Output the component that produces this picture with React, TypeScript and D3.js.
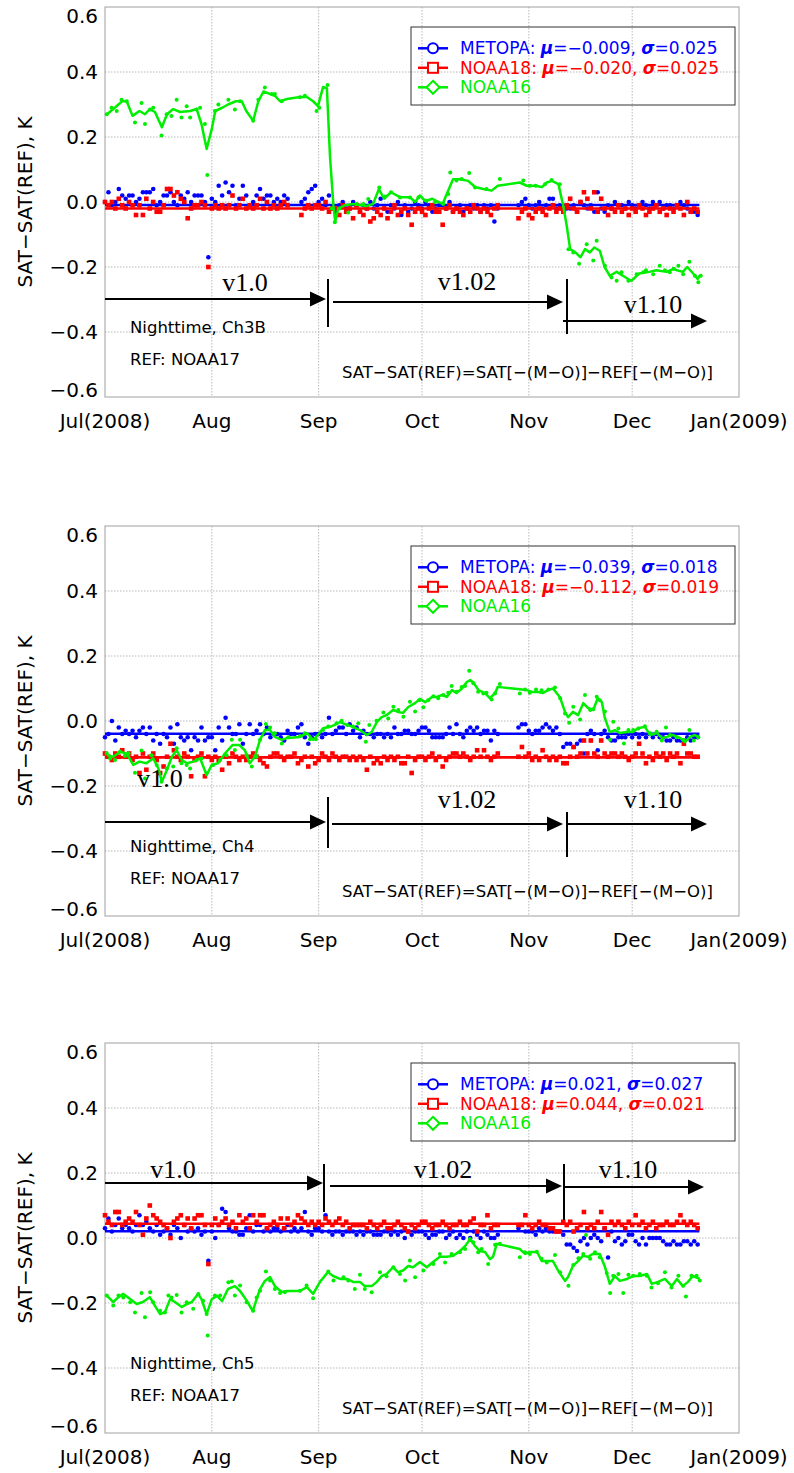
import React from "react";
import * as d3 from "d3";

// ---------------- data ----------------
const START = Date.UTC(2008, 6, 1);
const END = Date.UTC(2009, 0, 1);
const DAY_MS = 86400000;
const MONTH_LABELS = ["Jul(2008)", "Aug", "Sep", "Oct", "Nov", "Dec", "Jan(2009)"];
const Y_TICKS = [-0.6, -0.4, -0.2, 0, 0.2, 0.4, 0.6];
const CHANNELS = ["Ch3B", "Ch4", "Ch5"];
const REF_SAT = "NOAA17";
const SERIES_NAMES = ["METOPA", "NOAA18", "NOAA16"];
const METOPA_MEAN = [-0.009, -0.039, 0.021];
const METOPA_SIGMA = [0.025, 0.018, 0.027];
const NOAA18_MEAN = [-0.02, -0.112, 0.044];
const NOAA18_SIGMA = [0.025, 0.019, 0.021];
const VERSION_LABELS = ["v1.0", "v1.02", "v1.10"];
const MEAN_LINE_END_DAY = 172.5;

type V = number | null;
type Pt = [number, number];

// daily values, day 0 = 1 Jul 2008
const CH3B_METOPA: V[] = [
  0.00, 0.03, -0.01, 0.00, 0.04, 0.02, 0.01, 0.02, 0.02, 0.00,
  0.01, 0.03, 0.03, 0.03, 0.04, -0.01, 0.00, 0.02, 0.02, 0.03,
  0.00, -0.01, 0.02, 0.01, 0.03, 0.00, 0.02, 0.02, 0.02, 0.00,
  -0.17, 0.01, 0.00, 0.05, 0.02, 0.06, 0.03, 0.05, -0.01, 0.01,
  0.05, 0.02, -0.01, 0.00, 0.02, 0.04, 0.01, 0.02, 0.02, 0.00,
  0.01, 0.00, 0.02, 0.01, null, null, null, 0.00, 0.01, 0.03,
  0.04, 0.05, 0.00, 0.01, -0.01, 0.02, -0.02, -0.03, -0.01, 0.00,
  -0.02, -0.02, 0.00, -0.01, -0.03, -0.01, -0.02, 0.00, -0.02, -0.01,
  0.01, -0.02, -0.03, -0.01, -0.02, 0.00, -0.04, -0.01, -0.03, -0.02,
  0.00, -0.01, -0.02, 0.00, -0.01, -0.03, -0.02, -0.01, -0.01, -0.02,
  0.00, -0.03, -0.02, -0.01, -0.03, -0.02, -0.01, -0.02, -0.01, -0.03,
  -0.01, -0.02, -0.01, -0.06, -0.02, null, null, null, null, null,
  -0.01, 0.00, 0.01, -0.01, -0.02, -0.01, 0.00, -0.02, -0.01, 0.01,
  0.01, -0.02, -0.01, -0.03, -0.02, -0.02, -0.01, -0.03, 0.00, -0.01,
  -0.02, -0.01, -0.03, 0.03, -0.02, -0.03, -0.01, -0.02, 0.00, -0.01,
  -0.01, -0.02, 0.00, -0.01, -0.02, -0.01, 0.00, -0.01, -0.02, 0.00,
  -0.01, 0.00, -0.02, -0.01, -0.01, -0.02, -0.01, 0.00, -0.01, -0.02,
  -0.03, -0.03, -0.04,
];
const CH3B_NOAA18: V[] = [
  0.00, -0.01, 0.00, -0.02, 0.01, -0.01, -0.02, 0.00, -0.01, -0.04,
  -0.01, -0.04, 0.01, -0.02, 0.00, -0.03, -0.03, -0.01, 0.04, 0.04,
  0.02, 0.03, 0.01, 0.00, -0.05, -0.02, -0.01, -0.01, 0.00, -0.01,
  -0.20, -0.02, -0.01, -0.02, -0.01, -0.02, -0.01, 0.02, -0.02, -0.01,
  0.01, -0.02, -0.01, -0.02, -0.01, 0.01, -0.02, 0.00, -0.02, -0.01,
  -0.02, -0.01, 0.00, -0.01, null, null, null, -0.04, -0.02, -0.01,
  -0.02, -0.01, -0.01, -0.02, 0.00, -0.03, -0.02, -0.02, -0.04, -0.01,
  -0.03, -0.02, -0.05, -0.01, -0.03, -0.04, -0.02, -0.06, -0.05, -0.03,
  -0.04, -0.02, -0.05, -0.03, -0.01, -0.04, -0.03, -0.02, -0.04, -0.07,
  -0.03, -0.02, -0.03, -0.04, -0.02, -0.01, -0.03, -0.03, -0.07, -0.02,
  -0.01, -0.03, -0.02, -0.03, -0.04, -0.02, -0.03, -0.01, -0.02, -0.03,
  -0.02, -0.03, -0.04, -0.02, -0.01, null, null, null, null, null,
  -0.05, -0.03, -0.02, -0.04, -0.05, -0.03, -0.02, -0.03, -0.04, -0.02,
  -0.01, -0.03, -0.02, -0.03, -0.01, 0.01, -0.02, -0.03, 0.00, 0.03,
  0.01, -0.02, 0.03, -0.03, 0.01, -0.02, -0.04, -0.02, -0.03, -0.01,
  -0.03, -0.02, -0.04, -0.02, -0.03, -0.01, -0.02, -0.04, -0.03, -0.02,
  -0.01, -0.03, -0.02, -0.04, -0.02, -0.03, -0.01, -0.02, -0.04, 0.00,
  -0.03, -0.02, -0.03,
];
const CH3B_NOAA16_LINE: Pt[] = [
  [0.6, 0.27], [2.4, 0.286], [5, 0.31], [6.3, 0.31], [8, 0.265], [10, 0.28], [11.6, 0.27], [13, 0.286],
  [14.5, 0.277], [16.5, 0.23], [18, 0.27], [19.8, 0.286], [21.8, 0.277], [24.7, 0.28], [26.6, 0.286],
  [28, 0.24], [29.5, 0.163], [31, 0.225], [32, 0.28], [34, 0.29], [35.7, 0.3], [38, 0.31], [39.7, 0.31],
  [41, 0.28], [43, 0.25], [44.5, 0.31], [46, 0.34], [48, 0.332], [49.4, 0.326], [50.8, 0.31], [52.8, 0.317],
  [56.6, 0.323], [58.6, 0.323], [60.4, 0.31], [61.8, 0.295], [63.3, 0.354], [64.4, 0.35], [65.3, 0.14],
  [66.3, -0.012], [66.8, -0.06], [67.7, -0.02], [69.6, -0.01], [72, -0.006], [76, -0.012], [77.8, -0.006],
  [79.5, 0.04], [81, 0.01], [83, 0.03], [85.6, 0.015], [88.5, 0.015], [90, 0.0], [91.4, 0.02], [93, 0.003],
  [95, 0.01], [96.3, 0.003], [98, -0.006], [99, 0.02], [101, 0.07], [103, 0.07], [105.4, 0.065],
  [107.4, 0.046], [109.8, 0.04], [112.2, 0.035], [114, 0.05], [120.4, 0.06], [122.4, 0.05], [124.8, 0.05],
  [126.8, 0.046], [128.2, 0.06], [129.7, 0.065], [131.6, 0.055], [133, -0.012], [134, -0.073], [135, -0.145],
  [136.5, -0.155], [138, -0.17], [139.3, -0.145], [140.7, -0.155], [142, -0.14], [143.6, -0.15], [145, -0.2],
  [146.5, -0.227], [148.5, -0.215], [150.3, -0.227], [152.8, -0.243], [155, -0.22], [158, -0.215], [160, -0.21],
  [163, -0.215], [165, -0.206], [166, -0.21], [167.7, -0.215], [169, -0.2], [170.7, -0.22], [172, -0.237],
  [172.6, -0.227],
];
const CH3B_NOAA16_DOTS: Pt[] = [
  [0.5, 0.27], [1.9, 0.29], [3.4, 0.28], [4.8, 0.315], [6.3, 0.31], [8.7, 0.245], [10.6, 0.305], [11.6, 0.24],
  [13.1, 0.285], [14, 0.29], [16.4, 0.205], [17.9, 0.27], [19.3, 0.265], [20.8, 0.315], [22.2, 0.26],
  [23.7, 0.295], [24.7, 0.26], [26.6, 0.285], [27.6, 0.29], [29, 0.24], [29.7, 0.083], [31.9, 0.28],
  [32.9, 0.3], [35.8, 0.315], [37.7, 0.285], [39.2, 0.31], [43, 0.25], [44.5, 0.315], [46.4, 0.352],
  [48.4, 0.332], [49.3, 0.332], [51.3, 0.31], [56.6, 0.322], [58, 0.327], [61.4, 0.28], [62.2, 0.29],
  [64.6, 0.36], [65.8, -0.02], [66.7, -0.062], [68, -0.02], [70.6, -0.032], [73, -0.006], [75, -0.006],
  [76.4, 0.009], [79.6, 0.045], [81.3, 0.017], [83, 0.03], [85.6, 0.014], [88.5, 0.014], [91, 0.015],
  [93.3, 0.004], [95.8, 0.0], [98.2, -0.006], [99.6, 0.025], [100.2, 0.091], [102, 0.066], [103.5, 0.071],
  [105.7, 0.089], [107.4, 0.045], [110.7, 0.04], [114.6, 0.071], [121.4, 0.066], [123.3, 0.05], [125, 0.05],
  [127.7, 0.055], [129.6, 0.068], [132, 0.055], [134.5, -0.145], [135.9, -0.155], [137.6, -0.19],
  [139.8, -0.13], [141.7, -0.18], [142.7, -0.119], [145.1, -0.196], [147, -0.232], [148.5, -0.242],
  [149.9, -0.216], [151.9, -0.242], [154.3, -0.222], [156.2, -0.216], [157, -0.21], [159.1, -0.222],
  [161, -0.196], [162.5, -0.21], [163.9, -0.216], [165, -0.205], [166.4, -0.196], [167.8, -0.222],
  [169.6, -0.184], [171.2, -0.227], [172.2, -0.247], [172.9, -0.227],
];

const CH4_METOPA: V[] = [
  -0.05, -0.04, 0.00, -0.06, -0.02, -0.04, -0.03, -0.04, -0.03, -0.05,
  -0.03, -0.02, -0.04, -0.02, -0.06, -0.04, -0.07, -0.04, -0.05, -0.02,
  -0.07, -0.01, -0.05, -0.06, -0.05, -0.09, -0.05, -0.06, -0.02, -0.06,
  -0.05, -0.05, -0.09, -0.02, -0.06, 0.01, -0.02, -0.04, -0.04, -0.01,
  -0.07, -0.04, -0.01, -0.04, -0.03, -0.01, -0.04, -0.02, -0.05, -0.04,
  -0.04, -0.05, -0.06, -0.03, -0.04, -0.04, -0.02, -0.01, -0.05, -0.07,
  -0.05, -0.04, -0.04, -0.05, -0.04, 0.01, -0.04, -0.03, -0.02, -0.02,
  -0.04, -0.01, -0.03, -0.02, -0.05, -0.03, -0.04, -0.04, -0.05, -0.04,
  -0.04, -0.05, -0.04, -0.05, -0.02, -0.04, -0.04, -0.03, -0.03, -0.04,
  -0.04, -0.03, -0.02, -0.02, -0.03, -0.05, -0.05, -0.05, -0.05, -0.04,
  -0.02, -0.04, -0.01, -0.04, -0.05, -0.03, -0.02, -0.03, -0.02, -0.04,
  -0.03, -0.03, -0.06, -0.03, -0.04, null, null, null, null, null,
  -0.02, -0.01, -0.01, -0.03, -0.04, -0.03, -0.03, -0.02, -0.01, -0.02,
  -0.03, -0.02, -0.04, -0.08, -0.07, -0.07, -0.08, -0.07, -0.06, -0.10,
  -0.04, -0.03, -0.04, -0.09, -0.04, -0.03, -0.05, -0.06, -0.06, -0.05,
  -0.05, -0.05, -0.04, -0.05, -0.04, -0.05, -0.04, -0.05, -0.04, -0.05,
  -0.04, -0.05, -0.05, -0.06, -0.06, -0.05, -0.06, -0.06, -0.06, -0.05,
  -0.06, -0.05, -0.05,
];
const CH4_NOAA18: V[] = [
  -0.10, -0.11, -0.12, -0.10, -0.11, -0.09, -0.11, -0.10, -0.12, -0.11,
  -0.16, -0.10, -0.15, -0.11, -0.10, -0.12, -0.16, -0.14, -0.11, -0.07,
  -0.09, -0.11, -0.12, -0.10, -0.11, -0.17, -0.12, -0.11, -0.10, -0.17,
  -0.11, -0.12, -0.11, -0.12, -0.15, -0.11, -0.13, -0.10, -0.11, -0.12,
  -0.11, -0.12, -0.11, -0.10, -0.11, -0.12, -0.13, -0.14, -0.11, -0.10,
  -0.10, -0.11, -0.12, -0.11, -0.11, -0.10, -0.13, -0.12, -0.11, -0.14,
  -0.11, -0.13, -0.12, -0.10, -0.11, -0.12, -0.10, -0.11, -0.12, -0.11,
  -0.11, -0.12, -0.11, -0.12, -0.11, -0.12, -0.15, -0.11, -0.13, -0.12,
  -0.13, -0.11, -0.12, -0.11, -0.12, -0.11, -0.13, -0.13, -0.11, -0.16,
  -0.12, -0.11, -0.11, -0.12, -0.11, -0.10, -0.12, -0.11, -0.14, -0.12,
  -0.11, -0.10, -0.10, -0.11, -0.10, -0.11, -0.12, -0.11, -0.09, -0.11,
  -0.09, -0.11, -0.12, -0.11, -0.10, null, null, null, null, null,
  -0.11, -0.08, -0.11, -0.10, -0.12, -0.11, -0.12, -0.09, -0.11, -0.12,
  -0.11, -0.12, -0.11, -0.13, -0.13, -0.11, -0.08, -0.11, -0.10, -0.06,
  -0.10, -0.06, -0.10, -0.11, -0.06, -0.10, -0.11, -0.10, -0.10, -0.11,
  -0.10, -0.11, -0.12, -0.11, -0.10, -0.07, -0.10, -0.13, -0.11, -0.12,
  -0.10, -0.11, -0.10, -0.12, -0.10, -0.11, -0.10, -0.13, -0.07, -0.10,
  -0.10, -0.11, -0.11,
];
const CH4_NOAA16_LINE: Pt[] = [
  [0.6, -0.105], [2.4, -0.11], [4.4, -0.095], [6.3, -0.1], [8.2, -0.135], [10, -0.125], [12, -0.13],
  [14, -0.115], [15.5, -0.146], [16.5, -0.187], [18, -0.15], [19.4, -0.11], [20.8, -0.09], [22.3, -0.12],
  [23.8, -0.13], [25.6, -0.125], [27.6, -0.115], [29.5, -0.166], [31, -0.135], [32.8, -0.13], [34.8, -0.1],
  [37, -0.074], [39, -0.074], [40.6, -0.09], [42, -0.13], [43.5, -0.11], [45, -0.058], [46.4, -0.028],
  [47.9, -0.028], [49.3, -0.049], [51.3, -0.058], [53, -0.052], [56.6, -0.049], [58.6, -0.037], [60.4, -0.058],
  [61.8, -0.043], [63.3, -0.022], [65.3, -0.018], [66.7, -0.012], [68.2, -0.003], [70.2, -0.012], [72, -0.018],
  [74, -0.028], [76, -0.043], [77.4, -0.034], [78.9, -0.003], [80.3, 0.012], [81.7, 0.018], [83.6, 0.034],
  [85, 0.028], [86.5, 0.025], [88, 0.043], [90, 0.055], [91.4, 0.068], [92.9, 0.058], [94.9, 0.074],
  [96.3, 0.074], [97.8, 0.08], [99.2, 0.074], [100.7, 0.095], [102, 0.086], [103.6, 0.1], [105, 0.12],
  [106, 0.126], [107, 0.117], [108.4, 0.095], [110.3, 0.086], [111.7, 0.07], [113.2, 0.086], [114, 0.105],
  [120.4, 0.098], [122.4, 0.095], [124.2, 0.089], [125.7, 0.089], [127, 0.086], [128.6, 0.095], [130, 0.1],
  [132, 0.074], [133.5, 0.028], [134.4, 0.012], [135.8, 0.028], [137.3, 0.018], [138.8, 0.055], [140.2, 0.04],
  [141.7, 0.034], [143, 0.07], [144.2, 0.058], [145, 0.012], [146.5, -0.034], [148, -0.028], [149.4, -0.037],
  [151.5, -0.034], [153.2, -0.034], [154.7, -0.022], [156.7, -0.018], [158.2, -0.043], [160.2, -0.037],
  [161.6, -0.052], [163, -0.049], [164.8, -0.043], [166.9, -0.052], [168.3, -0.065], [169.8, -0.049],
  [171.2, -0.043], [172.6, -0.052],
];
const CH4_NOAA16_DOTS: Pt[] = [
  [0.5, -0.099], [1.5, -0.115], [2.9, -0.12], [4.4, -0.094], [5.8, -0.108], [6.8, -0.099], [8.7, -0.159],
  [10.6, -0.091], [11.6, -0.177], [13.5, -0.105], [15, -0.135], [16.4, -0.187], [17.9, -0.146], [19.8, -0.14],
  [20.8, -0.084], [22.2, -0.13], [23.7, -0.135], [24.7, -0.146], [26.6, -0.12], [28, -0.115], [29.5, -0.161],
  [31.4, -0.135], [33.4, -0.12], [35.3, -0.105], [36.8, -0.058], [37.7, -0.089], [39.2, -0.058], [41.1, -0.105],
  [42.6, -0.14], [44, -0.11], [45, -0.058], [46.7, -0.009], [47.9, -0.02], [49.3, -0.038], [51.3, -0.069],
  [53.2, -0.05], [56.6, -0.046], [58, -0.038], [59.5, -0.056], [61.2, -0.056], [63.3, -0.028], [64.8, -0.017],
  [67.2, -0.007], [68.7, 0.001], [70.3, -0.012], [72, -0.017], [73.5, -0.007], [75.7, -0.064], [76.7, -0.012],
  [78.8, 0.001], [80.8, 0.026], [82.2, 0.008], [83.7, 0.044], [85.1, 0.034], [86.6, 0.013], [88.5, 0.059],
  [90, 0.029], [91.2, 0.064], [92.4, 0.042], [93.8, 0.064], [95.3, 0.076], [96.7, 0.07], [98.2, 0.08],
  [99.6, 0.087], [100.6, 0.108], [102, 0.09], [103.5, 0.105], [104.5, 0.108], [105.7, 0.155], [106.9, 0.116],
  [108.3, 0.09], [109.8, 0.085], [110.7, 0.087], [112.2, 0.066], [113.2, 0.085], [114.6, 0.114], [120.4, 0.085],
  [121.9, 0.097], [123.3, 0.087], [125.1, 0.097], [126.7, 0.095], [128.7, 0.097], [130.6, 0.103], [132.1, 0.07],
  [133.5, 0.023], [134.7, -0.005], [135.9, 0.044], [137.9, 0.005], [139.3, 0.08], [140.8, 0.034], [141.7, 0.036],
  [142.7, 0.075], [143.6, 0.064], [145.1, 0.029], [146.6, -0.058], [147.5, -0.002], [149, -0.023],
  [150.6, -0.069], [151.9, -0.028], [153.3, -0.028], [154.8, -0.023], [156.7, -0.016], [158.2, -0.038],
  [160.1, -0.033], [161.6, -0.06], [162.8, -0.02], [164, -0.043], [165.9, -0.05], [167.8, -0.058],
  [169.6, -0.028], [170.9, -0.06], [172.2, -0.05],
];

const CH5_METOPA: V[] = [
  0.03, 0.06, 0.02, 0.04, 0.06, 0.03, 0.04, 0.03, 0.02, 0.04,
  0.07, 0.04, 0.05, 0.03, 0.02, 0.04, 0.01, 0.02, 0.03, 0.01,
  0.04, 0.03, 0.00, 0.04, 0.02, 0.03, 0.02, 0.03, 0.01, 0.02,
  -0.07, 0.02, 0.00, 0.04, 0.09, 0.08, 0.03, 0.02, 0.02, 0.01,
  0.01, 0.03, 0.07, 0.02, 0.04, 0.04, 0.02, 0.03, 0.02, 0.03,
  0.03, 0.02, 0.03, 0.04, 0.02, 0.03, 0.02, 0.03, 0.08, 0.02,
  0.01, 0.03, 0.03, 0.02, 0.07, 0.02, 0.01, 0.02, 0.02, 0.01,
  0.02, 0.02, 0.02, 0.01, 0.02, 0.01, 0.02, 0.02, 0.01, 0.01,
  0.01, 0.02, 0.02, 0.01, 0.02, 0.01, 0.02, 0.00, 0.02, 0.01,
  0.02, 0.02, 0.02, 0.01, 0.00, 0.01, 0.01, 0.02, 0.02, 0.00,
  0.01, 0.02, 0.00, 0.01, 0.00, 0.02, 0.00, 0.02, 0.01, 0.00,
  0.02, 0.01, 0.00, 0.00, 0.01, null, null, null, null, null,
  0.03, 0.04, 0.02, 0.02, 0.02, 0.01, 0.03, 0.02, 0.03, 0.02,
  0.02, 0.02, 0.02, 0.01, -0.02, -0.02, -0.03, -0.04, -0.01, 0.00,
  -0.02, 0.00, 0.01, 0.00, -0.01, 0.03, -0.06, 0.02, -0.01, 0.00,
  -0.02, -0.01, 0.01, 0.01, -0.01, -0.02, 0.00, -0.02, 0.00, 0.00,
  0.00, 0.00, -0.01, -0.02, -0.02, -0.01, -0.02, -0.02, -0.01, -0.01,
  -0.02, -0.01, -0.02,
];
const CH5_NOAA18: V[] = [
  0.07, 0.05, 0.04, 0.08, 0.08, 0.04, 0.05, 0.06, 0.05, 0.08,
  0.04, 0.01, 0.06, 0.10, 0.07, 0.06, 0.05, 0.04, 0.03, 0.00,
  0.05, 0.06, 0.07, 0.04, 0.06, 0.03, 0.06, 0.07, 0.07, 0.04,
  -0.08, 0.04, 0.06, 0.04, 0.05, 0.06, 0.04, 0.05, 0.03, 0.07,
  0.05, 0.06, 0.03, 0.07, 0.05, 0.07, 0.07, 0.03, 0.04, 0.05,
  0.04, 0.06, 0.03, 0.06, 0.04, 0.05, 0.07, 0.06, 0.05, 0.04,
  0.05, 0.04, 0.05, 0.04, 0.06, 0.05, 0.04, 0.05, 0.06, 0.04,
  0.05, 0.03, 0.04, 0.04, 0.04, 0.04, 0.03, 0.05, 0.04, 0.03,
  0.04, 0.05, 0.03, 0.03, 0.04, 0.05, 0.04, 0.03, 0.02, 0.04,
  0.03, 0.04, 0.05, 0.05, 0.04, 0.03, 0.04, 0.04, 0.05, 0.04,
  0.03, 0.04, 0.04, 0.05, 0.04, 0.04, 0.05, 0.06, 0.02, 0.04,
  0.04, 0.07, 0.03, 0.04, 0.04, null, null, null, null, null,
  0.04, 0.04, 0.07, 0.04, 0.03, 0.04, 0.05, 0.04, 0.04, 0.03,
  0.03, 0.02, 0.02, 0.05, 0.04, 0.05, 0.02, 0.03, 0.04, 0.08,
  0.03, 0.04, 0.03, 0.05, 0.08, 0.03, 0.01, 0.05, 0.04, 0.05,
  0.04, 0.03, 0.05, 0.04, 0.07, 0.04, 0.05, 0.03, 0.04, 0.05,
  0.03, 0.04, 0.04, 0.05, 0.04, 0.04, 0.05, 0.07, 0.05, 0.04,
  0.05, 0.04, 0.03,
];
const CH5_NOAA16_LINE: Pt[] = [
  [0.6, -0.178], [2.4, -0.197], [3.9, -0.182], [5.3, -0.172], [7.3, -0.188], [9.2, -0.203], [11, -0.197],
  [13, -0.182], [14.5, -0.209], [16, -0.234], [17.4, -0.228], [18.9, -0.188], [20.3, -0.197], [22.3, -0.212],
  [23.8, -0.203], [25.2, -0.197], [27, -0.172], [28, -0.188], [29.5, -0.234], [31, -0.188], [32.5, -0.178],
  [34, -0.194], [35.7, -0.157], [37.7, -0.148], [39.2, -0.163], [41.2, -0.194], [42.9, -0.225], [44, -0.188],
  [45, -0.157], [46.4, -0.132], [47.9, -0.12], [49.3, -0.148], [51.3, -0.166], [52.8, -0.163], [56.6, -0.163],
  [58.6, -0.151], [60.4, -0.172], [62.4, -0.135], [64.7, -0.105], [66.2, -0.117], [68.2, -0.126],
  [70.2, -0.126], [72, -0.135], [74, -0.135], [75.4, -0.148], [77.4, -0.148], [78.9, -0.135], [80.3, -0.117],
  [81.7, -0.111], [83.6, -0.09], [85, -0.105], [86.5, -0.1], [88, -0.086], [89.4, -0.09], [91.4, -0.074],
  [93.4, -0.09], [95.2, -0.074], [97.2, -0.058], [99.2, -0.058], [101, -0.055], [103, -0.04], [104.5, -0.025],
  [106, -0.003], [107.4, -0.025], [108.8, -0.04], [110.3, -0.043], [111.7, -0.065], [112.6, -0.058],
  [113.7, -0.018], [120.4, -0.034], [121.9, -0.049], [123.3, -0.043], [125.4, -0.043], [126.8, -0.071],
  [128.6, -0.071], [130, -0.071], [131.5, -0.1], [133.5, -0.132], [134.4, -0.12], [135.8, -0.086],
  [137.3, -0.071], [138.7, -0.055], [140.2, -0.058], [141.6, -0.049], [143.6, -0.049], [145, -0.086],
  [146.5, -0.141], [148, -0.117], [149.4, -0.132], [151.5, -0.126], [153.2, -0.117], [155.2, -0.117],
  [157.3, -0.111], [158.7, -0.141], [160.5, -0.135], [162.5, -0.126], [164.5, -0.148], [166, -0.126],
  [167.7, -0.148], [169.2, -0.135], [170.6, -0.117], [172.6, -0.126],
];
const CH5_NOAA16_DOTS: Pt[] = [
  [0.5, -0.177], [2.4, -0.208], [3.9, -0.177], [5.3, -0.183], [7.3, -0.198], [8.7, -0.229], [10.6, -0.169],
  [11.6, -0.244], [13.1, -0.167], [14, -0.198], [16, -0.224], [17.4, -0.229], [18.4, -0.177], [19.3, -0.183],
  [20.8, -0.175], [22.2, -0.229], [23.7, -0.198], [25.6, -0.218], [27.1, -0.172], [28.5, -0.193],
  [29.5, -0.234], [29.8, -0.3], [31.9, -0.177], [33.4, -0.177], [35.8, -0.136], [36.8, -0.134], [37.7, -0.177],
  [39.2, -0.146], [41.1, -0.198], [43, -0.224], [44, -0.183], [45, -0.162], [46.7, -0.103], [47.9, -0.131],
  [49.3, -0.157], [50.8, -0.169], [52.2, -0.167], [56.6, -0.162], [58.5, -0.146], [60.4, -0.185],
  [64.8, -0.103], [66.3, -0.131], [69.2, -0.121], [70.6, -0.131], [72.5, -0.157], [74, -0.113], [75.4, -0.157],
  [77.4, -0.167], [79.8, -0.105], [81.7, -0.118], [83.7, -0.09], [85.6, -0.111], [87.1, -0.131], [88.5, -0.069],
  [90, -0.121], [92.4, -0.1], [95.3, -0.08], [97.2, -0.049], [98.7, -0.075], [100.6, -0.049], [103, -0.044],
  [104.5, -0.034], [105.9, -0.003], [106.9, -0.013], [108.3, -0.044], [109.3, -0.034], [111.2, -0.08],
  [113.2, -0.021], [114.6, -0.018], [120.4, -0.059], [121.9, -0.044], [123.3, -0.049], [125.3, -0.042],
  [126.7, -0.064], [128.2, -0.075], [130.6, -0.052], [132.1, -0.105], [134.5, -0.147], [135.9, -0.083],
  [137.4, -0.062], [138.8, -0.049], [139.6, 0.009], [140.8, -0.064], [142.2, -0.044], [143.6, -0.059],
  [145.6, -0.108], [146.6, -0.169], [147.5, -0.116], [149, -0.111], [150.4, -0.169], [151.9, -0.113],
  [153.3, -0.116], [155.2, -0.111], [157.2, -0.116], [158.6, -0.152], [160.5, -0.139], [162.5, -0.105],
  [164.4, -0.152], [166.4, -0.116], [167.8, -0.147], [168.6, -0.18], [170.2, -0.116], [171.7, -0.116],
  [172.6, -0.131],
];

// ---------------- layout ----------------
const W = 794;
const H = 1473;
const PL = 105;
const PR = 739;
const PH = 390;
const PANEL_TOPS = [7, 526, 1043];
const BLUE = "#0000ff";
const RED = "#ff0000";
const GREEN = "#00ee00";
const SANS = "DejaVu Sans, Verdana, sans-serif";
const SERIF = "Liberation Serif, Times New Roman, serif";

// annotation geometry (pixels relative to panel top)
const ARROWS = [
  {
    a1: { y: 292, x1: 326 }, t1: { x: 328, y0: 272, y1: 320 },
    a2: { y: 295, x0: 333, x1: 563 }, t2: { x: 567, y0: 272, y1: 327 },
    a3: { y: 314, x0: 563, x1: 707 },
    labels: [[245, 284], [467, 283], [653, 306]],
  },
  {
    a1: { y: 296, x1: 326 }, t1: { x: 328, y0: 271, y1: 322 },
    a2: { y: 298, x0: 332, x1: 563 }, t2: { x: 567, y0: 286, y1: 331 },
    a3: { y: 298, x0: 567, x1: 707 },
    labels: [[160, 261], [467, 282], [653, 282]],
  },
  {
    a1: { y: 140, x1: 323 }, t1: { x: 324, y0: 121, y1: 169 },
    a2: { y: 143, x0: 330, x1: 562 }, t2: { x: 564, y0: 121, y1: 177 },
    a3: { y: 144, x0: 564, x1: 704 },
    labels: [[173, 135], [443, 135], [628, 135]],
  },
];

const PANELS = [
  { metopa: CH3B_METOPA, noaa18: CH3B_NOAA18, line: CH3B_NOAA16_LINE, dots: CH3B_NOAA16_DOTS },
  { metopa: CH4_METOPA, noaa18: CH4_NOAA18, line: CH4_NOAA16_LINE, dots: CH4_NOAA16_DOTS },
  { metopa: CH5_METOPA, noaa18: CH5_NOAA18, line: CH5_NOAA16_LINE, dots: CH5_NOAA16_DOTS },
];

const fmt3 = d3.format(".3f");
const fmt1 = d3.format(".1f");

function Arrow({ x0, x1, y }: { x0: number; x1: number; y: number }) {
  const head = 16;
  return (
    <g>
      <line x1={x0} x2={x1 - head + 1} y1={y} y2={y} stroke="#000" strokeWidth={2.2} />
      <path d={`M${x1},${y} L${x1 - head},${y - 7.5} L${x1 - head},${y + 7.5} Z`} fill="#000" />
    </g>
  );
}

function Panel({ i }: { i: number }) {
  const top = PANEL_TOPS[i];
  const bottom = top + PH;
  const p = PANELS[i];
  const x = d3.scaleUtc().domain([new Date(START), new Date(END)]).range([PL, PR]);
  const y = d3.scaleLinear().domain([-0.6, 0.6]).range([bottom, top]);
  const dx = (d: number) => x(new Date(START + d * DAY_MS));
  const months = d3.utcMonth.range(new Date(START), new Date(END + 1));
  const line = d3
    .line<Pt>()
    .x((d) => dx(d[0]))
    .y((d) => y(d[1]));
  const ar = ARROWS[i];
  const endX = dx(MEAN_LINE_END_DAY);

  const legendRows = [
    { name: SERIES_NAMES[0], color: BLUE, mean: METOPA_MEAN[i], sigma: METOPA_SIGMA[i], sym: "circle" },
    { name: SERIES_NAMES[1], color: RED, mean: NOAA18_MEAN[i], sigma: NOAA18_SIGMA[i], sym: "square" },
    { name: SERIES_NAMES[2], color: GREEN, mean: null as number | null, sigma: null as number | null, sym: "diamond" },
  ];

  return (
    <g>
      {/* gridlines */}
      {months.slice(1, -1).map((m, k) => (
        <line key={"vg" + k} x1={x(m)} x2={x(m)} y1={top} y2={bottom} stroke="#b8b8b8" strokeWidth={1} strokeDasharray="1.5,1.5" />
      ))}
      {Y_TICKS.slice(1, -1).map((t, k) => (
        <line key={"hg" + k} x1={PL} x2={PR} y1={y(t)} y2={y(t)} stroke="#b8b8b8" strokeWidth={1} strokeDasharray="1.5,1.5" />
      ))}
      <rect x={PL} y={top} width={PR - PL} height={PH} fill="none" stroke="#a0a0a0" strokeWidth={1} />

      {/* y tick labels */}
      {Y_TICKS.map((t, k) => {
        let cy = y(t);
        if (k === Y_TICKS.length - 1) cy += 9;
        if (k === 0) cy -= 7;
        return (
          <text key={"yt" + k} x={98} y={cy + 7} textAnchor="end" fontFamily={SANS} fontSize={20} fill="#000">
            {fmt1(t)}
          </text>
        );
      })}
      {/* x tick labels */}
      {months.map((m, k) => (
        <text key={"xt" + k} x={x(m)} y={bottom + 30.5} textAnchor="middle" fontFamily={SANS} fontSize={20} fill="#000">
          {MONTH_LABELS[k]}
        </text>
      ))}
      {/* y title */}
      <text
        transform={`translate(32,${(top + bottom) / 2}) rotate(-90)`}
        textAnchor="middle"
        fontFamily={SANS}
        fontSize={20}
        fill="#000"
      >
        SAT−SAT(REF), K
      </text>

      {/* METOPA */}
      {p.metopa.map((v, d) =>
        v === null ? null : <circle key={"b" + d} cx={dx(d)} cy={y(v)} r={2.3} fill={BLUE} />
      )}
      <line x1={PL} x2={endX} y1={y(METOPA_MEAN[i])} y2={y(METOPA_MEAN[i])} stroke={BLUE} strokeWidth={2.6} />
      {/* NOAA18 */}
      {p.noaa18.map((v, d) =>
        v === null ? null : <rect key={"r" + d} x={dx(d) - 2.3} y={y(v) - 2.3} width={4.6} height={4.6} fill={RED} />
      )}
      <line x1={PL} x2={endX} y1={y(NOAA18_MEAN[i])} y2={y(NOAA18_MEAN[i])} stroke={RED} strokeWidth={2.6} />
      {/* NOAA16 */}
      {p.dots.map((d, k) => (
        <circle key={"g" + k} cx={dx(d[0])} cy={y(d[1])} r={2} fill={GREEN} />
      ))}
      <path d={line(p.line) || ""} fill="none" stroke={GREEN} strokeWidth={2.5} strokeLinejoin="round" />

      {/* legend */}
      <rect x={411} y={top + 20} width={324} height={78} fill="none" stroke="#333" strokeWidth={1} />
      {legendRows.map((r, k) => {
        const cy = top + 41.3 + k * 19.5;
        const base = top + 47 + k * 19.5;
        return (
          <g key={"lg" + k}>
            <line x1={418} x2={448} y1={cy} y2={cy} stroke={r.color} strokeWidth={2.5} />
            {r.sym === "circle" && <circle cx={433} cy={cy} r={5} fill="white" stroke={r.color} strokeWidth={2} />}
            {r.sym === "square" && (
              <rect x={428} y={cy - 5} width={10} height={10} fill="white" stroke={r.color} strokeWidth={2} />
            )}
            {r.sym === "diamond" && (
              <path d={`M433,${cy - 6.5} L439.5,${cy} L433,${cy + 6.5} L426.5,${cy} Z`} fill="white" stroke={r.color} strokeWidth={2} />
            )}
            <text x={460} y={base} fontFamily={SANS} fontSize={17} fill={r.color}>
              {r.mean === null ? (
                r.name
              ) : (
                <>
                  {r.name + ": "}
                  <tspan fontWeight="bold" fontStyle="italic">μ</tspan>
                  {"=" + fmt3(r.mean) + ", "}
                  <tspan fontWeight="bold" fontStyle="italic">σ</tspan>
                  {"=" + fmt3(r.sigma as number)}
                </>
              )}
            </text>
          </g>
        );
      })}

      {/* version arrows */}
      <Arrow x0={PL} x1={ar.a1.x1} y={top + ar.a1.y} />
      <line x1={ar.t1.x} x2={ar.t1.x} y1={top + ar.t1.y0} y2={top + ar.t1.y1} stroke="#000" strokeWidth={2} />
      <Arrow x0={ar.a2.x0} x1={ar.a2.x1} y={top + ar.a2.y} />
      <line x1={ar.t2.x} x2={ar.t2.x} y1={top + ar.t2.y0} y2={top + ar.t2.y1} stroke="#000" strokeWidth={2} />
      <Arrow x0={ar.a3.x0} x1={ar.a3.x1} y={top + ar.a3.y} />
      {VERSION_LABELS.map((lab, k) => (
        <text key={"vl" + k} x={ar.labels[k][0]} y={top + ar.labels[k][1]} textAnchor="middle" fontFamily={SERIF} fontSize={26} fill="#000">
          {lab}
        </text>
      ))}

      {/* annotations */}
      <text x={130} y={top + 326} fontFamily={SANS} fontSize={16.5} fill="#000">
        {"Nighttime, " + CHANNELS[i]}
      </text>
      <text x={130} y={top + 358} fontFamily={SANS} fontSize={16.5} fill="#000">
        {"REF: " + REF_SAT}
      </text>
      <text x={342} y={top + 371} fontFamily={SANS} fontSize={16.5} fill="#000">
        SAT−SAT(REF)=SAT[−(M−O)]−REF[−(M−O)]
      </text>
    </g>
  );
}

export default function App() {
  return (
    <svg
      width={W}
      height={H}
      viewBox={`0 0 ${W} ${H}`}
      style={{ position: "absolute", left: 0, top: 0, background: "#fff" }}
    >
      <rect x={0} y={0} width={W} height={H} fill="#fff" />
      {[0, 1, 2].map((i) => (
        <Panel key={i} i={i} />
      ))}
    </svg>
  );
}
